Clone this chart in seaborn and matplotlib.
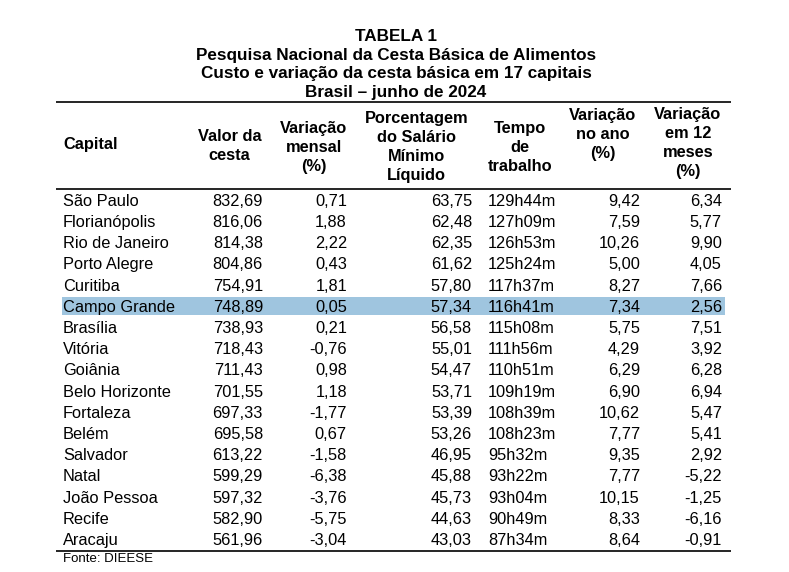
import matplotlib
matplotlib.use("Agg")
import matplotlib.pyplot as plt
import seaborn as sns

# ---- data ----
capitals = ["São Paulo", "Florianópolis", "Rio de Janeiro", "Porto Alegre", "Curitiba",
            "Campo Grande", "Brasília", "Vitória", "Goiânia", "Belo Horizonte",
            "Fortaleza", "Belém", "Salvador", "Natal", "João Pessoa", "Recife", "Aracaju"]
valor_cesta = [832.69, 816.06, 814.38, 804.86, 754.91, 748.89, 738.93, 718.43, 711.43,
               701.55, 697.33, 695.58, 613.22, 599.29, 597.32, 582.90, 561.96]
var_mensal = [0.71, 1.88, 2.22, 0.43, 1.81, 0.05, 0.21, -0.76, 0.98, 1.18,
              -1.77, 0.67, -1.58, -6.38, -3.76, -5.75, -3.04]
pct_salario = [63.75, 62.48, 62.35, 61.62, 57.80, 57.34, 56.58, 55.01, 54.47, 53.71,
               53.39, 53.26, 46.95, 45.88, 45.73, 44.63, 43.03]
tempo_trabalho = ["129h44m", "127h09m", "126h53m", "125h24m", "117h37m", "116h41m",
                  "115h08m", "111h56m", "110h51m", "109h19m", "108h39m", "108h23m",
                  "95h32m", "93h22m", "93h04m", "90h49m", "87h34m"]
var_ano = [9.42, 7.59, 10.26, 5.00, 8.27, 7.34, 5.75, 4.29, 6.29, 6.90,
           10.62, 7.77, 9.35, 7.77, 10.15, 8.33, 8.64]
var_12m = [6.34, 5.77, 9.90, 4.05, 7.66, 2.56, 7.51, 3.92, 6.28, 6.94,
           5.47, 5.41, 2.92, -5.22, -1.25, -6.16, -0.91]
highlight = "Campo Grande"

title_lines = ["TABELA 1",
               "Pesquisa Nacional da Cesta Básica de Alimentos",
               "Custo e variação da cesta básica em 17 capitais",
               "Brasil – junho de 2024"]
headers = [["Capital"],
           ["Valor da", "cesta"],
           ["Variação", "mensal", "(%)"],
           ["Porcentagem", "do Salário", "Mínimo", "Líquido"],
           ["Tempo", "de", "trabalho"],
           ["Variação", "no ano", "(%)"],
           ["Variação", "em 12", "meses", "(%)"]]
source = "Fonte: DIEESE"


def br(v):
    return f"{v:.2f}".replace(".", ",")


sns.set_theme(style="white")
plt.rcParams["font.family"] = ["Liberation Sans", "DejaVu Sans"]

fig = plt.figure(figsize=(7.89, 5.72), dpi=100)
ax = fig.add_axes([0, 0, 1, 1])
ax.set_xlim(0, 789)
ax.set_ylim(572, 0)
ax.axis("off")

fs = 11.8
cap = 5.9  # half cap height in px, to sit baselines on row centres

# title
for y, line in zip([35, 53.5, 72, 90.5], title_lines):
    ax.text(396, y + 6.1, line, ha="center", va="baseline", fontsize=12.3,
            fontweight="bold", color="black")

# rules
ax.hlines([102, 188.5, 551], 56, 731, color="black", lw=1.2)

# header
head_x = [63, 229.5, 314, 416.5, 520, 603, 688]
head_top = [143, 135, 127, 117, 127, 114, 113]
for x, top, lines in zip(head_x, head_top, headers):
    for k, line in enumerate(lines):
        ax.text(x, top + k * 19 + cap, line, ha="left" if x == 63 else "center",
                va="baseline", fontsize=fs, fontweight="bold", color="black")

# rows
row0, step = 200, 21.19
cols = [(63, "left"), (263, "right"), (347, "right"), (472, "right"),
        (488, "left"), (640, "right"), (722, "right")]
for i, name in enumerate(capitals):
    y = row0 + i * step
    if name == highlight:
        ax.axhspan(y - 9, y + 9.5, xmin=62 / 789, xmax=725 / 789,
                   color="#9fc5df", lw=0, zorder=0)
    vals = [name, br(valor_cesta[i]), br(var_mensal[i]), br(pct_salario[i]),
            tempo_trabalho[i], br(var_ano[i]), br(var_12m[i])]
    for (x, ha), v in zip(cols, vals):
        ax.text(x, y + cap, v, ha=ha, va="baseline", fontsize=fs, color="black")

ax.text(63, 558 + 4.5, source, ha="left", va="baseline", fontsize=9.5, color="black")

fig.savefig("out.png", dpi=100, facecolor="white")
